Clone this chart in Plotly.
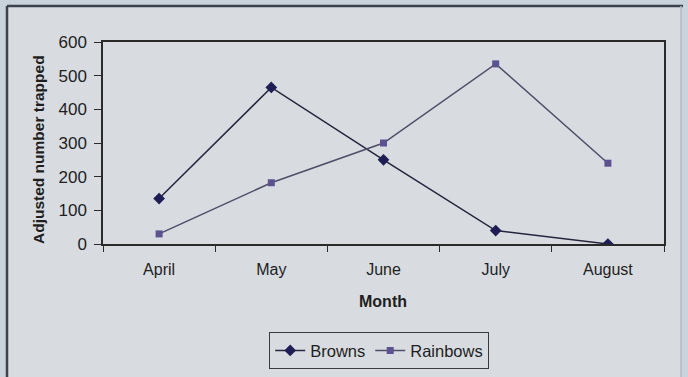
import plotly.graph_objects as go

months = ["April", "May", "June", "July", "August"]
browns = [135, 465, 250, 40, 0]
rainbows = [30, 182, 300, 535, 240]

# plot-area geometry in pixels (used to place the outer frame and titles)
W, H = 688, 377
L, R, T, B = 103, 24, 42, 133
pw, ph = W - L - R, H - T - B


def px(x):
    return (x - L) / pw


def py(y):
    return (H - B - y) / ph


FONT = "Arial, Liberation Sans, sans-serif"

fig = go.Figure()
fig.add_trace(go.Scatter(
    x=months, y=browns, name="Browns", mode="lines+markers",
    line=dict(color="#25253c", width=1.5),
    marker=dict(symbol="diamond", size=9, color="#1e1e55"),
))
fig.add_trace(go.Scatter(
    x=months, y=rainbows, name="Rainbows", mode="lines+markers",
    line=dict(color="#4e4e68", width=1.5),
    marker=dict(symbol="square", size=7, color="#5c5290"),
))

shapes = [
    dict(type="rect", xref="paper", yref="paper", layer="below",
         x0=px(7), x1=px(681), y0=py(6), y1=py(380),
         fillcolor="#d8dbe0", line=dict(width=0)),
    dict(type="line", xref="paper", yref="paper",
         x0=px(7), x1=px(683), y0=py(6), y1=py(6),
         line=dict(color="#3c424c", width=2.5)),
    dict(type="line", xref="paper", yref="paper",
         x0=px(7), x1=px(7), y0=py(6), y1=py(380),
         line=dict(color="#3c424c", width=2.5)),
    dict(type="line", xref="paper", yref="paper",
         x0=px(681), x1=px(681), y0=py(6), y1=py(380),
         line=dict(color="#b4b9c0", width=1.5)),
]

annotations = [
    dict(text="<b>Month</b>", xref="paper", yref="paper",
         x=px(383), y=py(301), xanchor="center", yanchor="middle",
         showarrow=False, font=dict(family=FONT, size=16, color="#1e1e1e")),
    dict(text="<b>Adjusted number trapped</b>", xref="paper", yref="paper",
         x=px(38), y=py(150), xanchor="center", yanchor="middle", textangle=-90,
         showarrow=False, font=dict(family=FONT, size=15.5, color="#1e1e1e")),
]

fig.update_layout(
    width=W, height=H,
    margin=dict(l=L, r=R, t=T, b=B, autoexpand=False),
    paper_bgcolor="#c8d3dc",
    plot_bgcolor="#d8dbe0",
    font=dict(family=FONT, size=16, color="#1e1e1e"),
    shapes=shapes,
    annotations=annotations,
    showlegend=True,
    legend=dict(
        orientation="h", x=px(379), xanchor="center", y=py(332), yanchor="top",
        bgcolor="#d8dbe0", bordercolor="#3a3a3a", borderwidth=1.2,
        font=dict(size=16.5), itemwidth=30,
    ),
    xaxis=dict(
        type="category", range=[-0.5, 4.5], showline=True, linecolor="#2a2a2a",
        linewidth=1.5, mirror=True, ticks="outside", tickson="boundaries",
        ticklen=6, tickcolor="#2a2a2a", showgrid=False, zeroline=False,
        tickfont=dict(size=16), ticklabelstandoff=10,
    ),
    yaxis=dict(
        range=[0, 600], dtick=100, showline=True, linecolor="#2a2a2a",
        linewidth=1.5, mirror=True, ticks="outside", ticklen=7,
        tickcolor="#2a2a2a", showgrid=False, zeroline=False,
        tickfont=dict(size=17), ticklabelstandoff=4,
    ),
)

fig.write_html("out.html")
